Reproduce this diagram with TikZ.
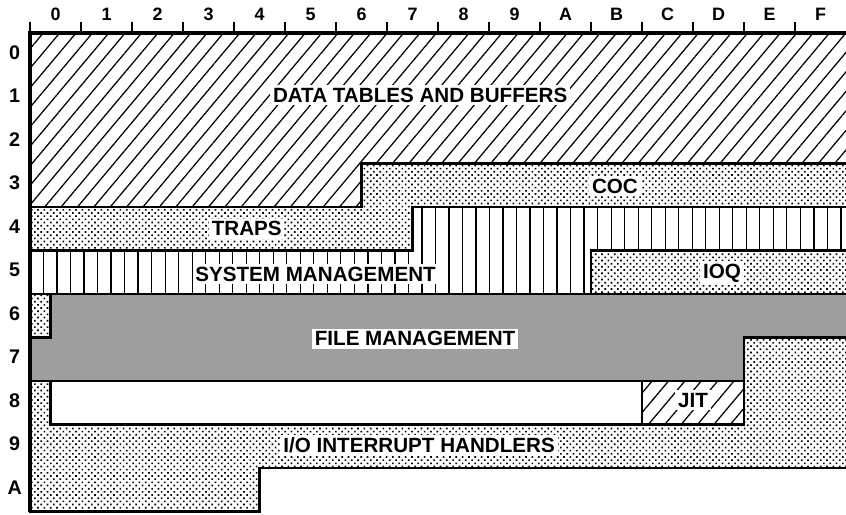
\documentclass[tikz,border=0pt]{standalone}
\usepackage{fontspec}
\setmainfont{Liberation Sans}
\usetikzlibrary{patterns.meta}

\begin{document}
\begin{tikzpicture}[x=1cm, y=-0.853cm,
    every node/.style={font=\bfseries},
    region/.style={draw, line width=1.4pt},
    tag/.style={fill=white, inner sep=1.5pt, font=\bfseries\fontsize{11.5}{13}\selectfont},
    hatchfill/.style={pattern={Lines[angle=50, distance=7pt, line width=0.7pt]}},
    dotfill/.style={pattern={Dots[distance=2.5pt, radius=0.65pt, angle=45]}},
    greyfill/.style={fill=black!38},
    collabel/.style={font=\bfseries\fontsize{10}{12}\selectfont},
    rowlabel/.style={font=\bfseries\fontsize{11}{13}\selectfont}]

    % page frame
    \clip (-0.588,-0.759) rectangle (16,11.057);

    % Data tables and buffers
    \draw[region, hatchfill] (0,0) -- (16.5,0) -- (16.5,3) -- (6.5,3) -- (6.5,4) -- (0,4) -- cycle;
    \node[tag] (data) at (7.65,1.43) {DATA TABLES AND BUFFERS};

    % COC and traps
    \draw[region, dotfill] (0,4) -- (6.5,4) -- (6.5,3) -- (16.5,3) -- (16.5,4) -- (7.5,4) -- (7.5,5) -- (0,5) -- cycle;
    \node[tag] (coc) at (11.47,3.52) {COC};
    \node[tag] (traps) at (4.25,4.5) {TRAPS};

    % System management
    \begin{scope}
        \clip (0,5) -- (7.5,5) -- (7.5,4) -- (16.5,4) -- (16.5,5) -- (11,5) -- (11,6) -- (0,6) -- cycle;
        \foreach \x in {0.265,0.53,...,16.2}
            \draw[line width=0.7pt] (\x,4) -- (\x,6);
    \end{scope}
    \draw[region] (0,5) -- (7.5,5) -- (7.5,4) -- (16.5,4) -- (16.5,5) -- (11,5) -- (11,6) -- (0,6) -- cycle;
    \node[tag] (sysman) at (5.6,5.54) {SYSTEM MANAGEMENT};

    % IOQ
    \draw[region, dotfill] (11,5) rectangle (16.5,6);
    \draw[region, dotfill] (0,6) rectangle (0.4,7);
    \node[tag] (ioq) at (13.57,5.52) {IOQ};

    % File management
    \draw[region, greyfill] (0.4,6) -- (16.5,6) -- (16.5,7) -- (14,7) -- (14,8) -- (0,8) -- (0,7) -- (0.4,7) -- cycle;
    \node[tag] (fileman) at (7.55,7.03) {FILE MANAGEMENT};

    % I/O interrupt handlers
    \draw[region, dotfill] (0,8) -- (0.4,8) -- (0.4,9) -- (14,9) -- (14,7) -- (16.5,7) -- (16.5,10) -- (4.5,10) -- (4.5,11) -- (0,11) -- cycle;
    \node[tag] (ioint) at (7.63,9.47) {I/O INTERRUPT HANDLERS};

    % empty block and JIT
    \draw[region, fill=white] (0.4,8) rectangle (12,9);
    \draw[region, hatchfill] (12,8) rectangle (14,9);
    \node[tag] (jit) at (13,8.44) {JIT};

    % outer border
    \draw[line width=2pt] (0,11) -- (0,0) -- (16.5,0);

    % columns
    \foreach \c/\t in {0/0,1/1,2/2,3/3,4/4,5/5,6/6,7/7,8/8,9/9,10/A,11/B,12/C,13/D,14/E,15/F} {
        \draw[line width=1.2pt] (\c,0) -- (\c,-0.25);
        \node[collabel] (col\t) at (\c+0.5,-0.42) {\t};
    }

    % rows
    \foreach \r/\t in {0/0,1/1,2/2,3/3,4/4,5/5,6/6,7/7,8/8,9/9,10/A}
        \node[rowlabel] (row\t) at (-0.3,\r+0.45) {\t};

\end{tikzpicture}
\end{document}
